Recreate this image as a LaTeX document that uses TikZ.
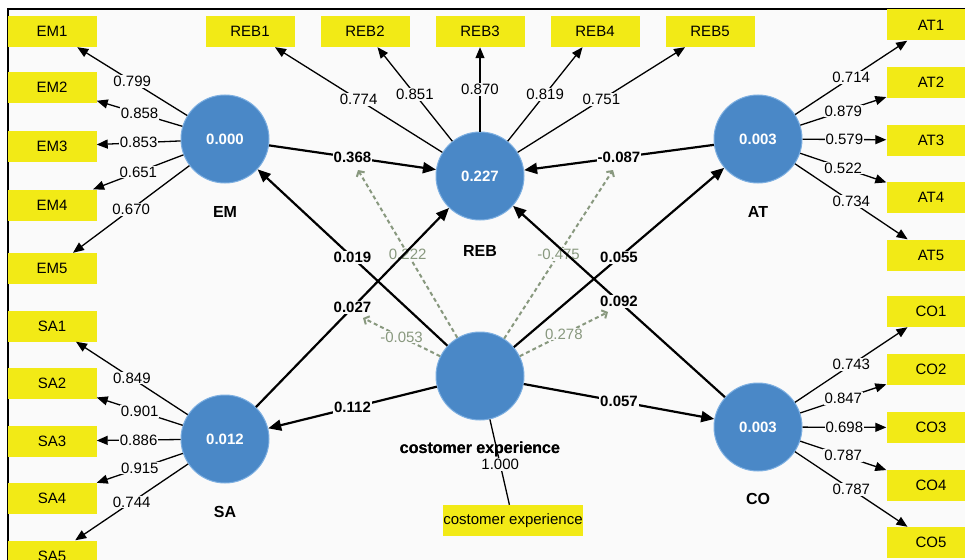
\documentclass[tikz,border=0pt]{standalone}
\usepackage{fontspec}
\setmainfont{Liberation Sans}
\usetikzlibrary{arrows.meta,positioning,calc}
\definecolor{plsblue}{RGB}{74,136,199}
\definecolor{plsring}{RGB}{125,175,225}
\definecolor{plsyellow}{RGB}{242,234,22}
\definecolor{plsgreen}{RGB}{136,152,126}
\definecolor{plsback}{RGB}{250,250,250}
\tikzset{latent/.style={circle, draw=plsring, fill=plsblue, line width=1pt, minimum size=88pt, inner sep=0pt, text=white, font=\fontsize{15}{18}\selectfont\bfseries}}
\tikzset{item/.style={rectangle, fill=plsyellow, minimum width=89pt, minimum height=31pt, inner sep=0pt, font=\fontsize{15}{18}\selectfont}}
\tikzset{lvname/.style={font=\fontsize{16}{19}\selectfont\bfseries}}
\tikzset{load/.style={draw, line width=1.3pt, -{Triangle[length=11pt,width=9pt]}}}
\tikzset{struct/.style={draw, line width=2.2pt, -{Triangle[length=13pt,width=11pt]}}}
\tikzset{mod/.style={draw=plsgreen, line width=2pt, dash pattern=on 4pt off 3pt, -{Straight Barb[length=4pt,width=9pt]}}}
\tikzset{val/.style={fill=plsback, inner sep=1pt, font=\fontsize{15}{18}\selectfont}}
\tikzset{sval/.style={val, font=\fontsize{15}{18}\selectfont\bfseries}}
\tikzset{mval/.style={val, text=plsgreen}}

\begin{document}
\begin{tikzpicture}[x=1pt, y=-1pt]

\clip (0,0) rectangle (965,559);
\fill [white] (0,0) rectangle (965,559);
\draw [line width=1.5pt, fill=plsback] (8,9) rectangle (980,580);

%LATENT VARIABLES
\node [latent] (EM) at (225,139) {0.000};
\node [latent] (REB) at (480,176) {0.227};
\node [latent] (AT) at (758,139) {0.003};
\node [latent] (SA) at (225,439) {0.012};
\node [latent] (CE) at (480,376) {};
\node [latent] (CO) at (758,427) {0.003};

\node [lvname, below=19pt of EM] (EMname) {EM};
\node [lvname, below=21pt of REB] (REBname) {REB};
\node [lvname, below=19pt of AT] (ATname) {AT};
\node [lvname, below=19pt of SA] (SAname) {SA};
\node [lvname, below=18pt of CO] (COname) {CO};
\node [lvname, below=18pt of CE] (CEname) {costomer experience};

%INDICATORS
\node [item] (EM1) at (52,31.5) {EM1};
\node [item] (EM2) at (52,87.5) {EM2};
\node [item] (EM3) at (52,146.5) {EM3};
\node [item] (EM4) at (52,205) {EM4};
\node [item] (EM5) at (52,268.5) {EM5};

\node [item] (SA1) at (52,326) {SA1};
\node [item] (SA2) at (52,383) {SA2};
\node [item] (SA3) at (52,441) {SA3};
\node [item] (SA4) at (52,498) {SA4};
\node [item] (SA5) at (52,556) {SA5};

\node [item] (REB1) at (250,31.5) {REB1};
\node [item] (REB2) at (365,31.5) {REB2};
\node [item] (REB3) at (480,31.5) {REB3};
\node [item] (REB4) at (595,31.5) {REB4};
\node [item] (REB5) at (710,31.5) {REB5};

\node [item] (AT1) at (931,25) {AT1};
\node [item] (AT2) at (931,82.5) {AT2};
\node [item] (AT3) at (931,140) {AT3};
\node [item] (AT4) at (931,197.5) {AT4};
\node [item] (AT5) at (931,255) {AT5};

\node [item] (CO1) at (931,311.5) {CO1};
\node [item] (CO2) at (931,369.5) {CO2};
\node [item] (CO3) at (931,427.5) {CO3};
\node [item] (CO4) at (931,485) {CO4};
\node [item] (CO5) at (931,542.5) {CO5};

\node [item] (CE1) at (513,520.5) {costomer experience};

%OUTER LOADINGS
\path [load] (EM) -- node [val] {0.799} (EM1);
\path [load] (EM) -- node [val] {0.858} (EM2);
\path [load] (EM) -- node [val] {0.853} (EM3);
\path [load] (EM) -- node [val] {0.651} (EM4);
\path [load] (EM) -- node [val] {0.670} (EM5);

\path [load] (SA) -- node [val] {0.849} (SA1);
\path [load] (SA) -- node [val] {0.901} (SA2);
\path [load] (SA) -- node [val] {0.886} (SA3);
\path [load] (SA) -- node [val] {0.915} (SA4);
\path [load] (SA) -- node [val] {0.744} (SA5);

\path [load] (REB) -- node [val] {0.774} (REB1);
\path [load] (REB) -- node [val] {0.851} (REB2);
\path [load] (REB) -- node [val] {0.870} (REB3);
\path [load] (REB) -- node [val] {0.819} (REB4);
\path [load] (REB) -- node [val] {0.751} (REB5);

\path [load] (AT) -- node [val] {0.714} (AT1);
\path [load] (AT) -- node [val] {0.879} (AT2);
\path [load] (AT) -- node [val] {0.579} (AT3);
\path [load] (AT) -- node [val] {0.522} (AT4);
\path [load] (AT) -- node [val] {0.734} (AT5);

\path [load] (CO) -- node [val] {0.743} (CO1);
\path [load] (CO) -- node [val] {0.847} (CO2);
\path [load] (CO) -- node [val] {0.698} (CO3);
\path [load] (CO) -- node [val] {0.787} (CO4);
\path [load] (CO) -- node [val] {0.787} (CO5);

\path [draw, line width=1.3pt] (CE) -- node [val, pos=0.53] {1.000} (CE1);
\node [lvname] at (CEname) {costomer experience};

%MODERATING EFFECTS
\coordinate (m1) at (358,170);
\coordinate (m2) at (613,170);
\coordinate (m3) at (363,318);
\coordinate (m4) at (608,312);
\path [mod] (CE) -- node [mval] {0.222} (m1);
\path [mod] (CE) -- node [mval] {-0.475} (m2);
\path [mod] (CE) -- node [mval] {-0.053} (m3);
\path [mod] (CE) -- node [mval] {0.278} (m4);

%INNER PATHS
\path [struct] (EM) -- node [sval] {0.368} (REB);
\path [struct] (AT) -- node [sval] {-0.087} (REB);
\path [struct] (CE) -- node [sval] {0.019} (EM);
\path [struct] (SA) -- node [sval] {0.027} (REB);
\path [struct] (CE) -- node [sval] {0.112} (SA);
\path [struct] (CE) -- node [sval] {0.055} (AT);
\path [struct] (CO) -- node [sval] {0.092} (REB);
\path [struct] (CE) -- node [sval] {0.057} (CO);

\end{tikzpicture}
\end{document}
